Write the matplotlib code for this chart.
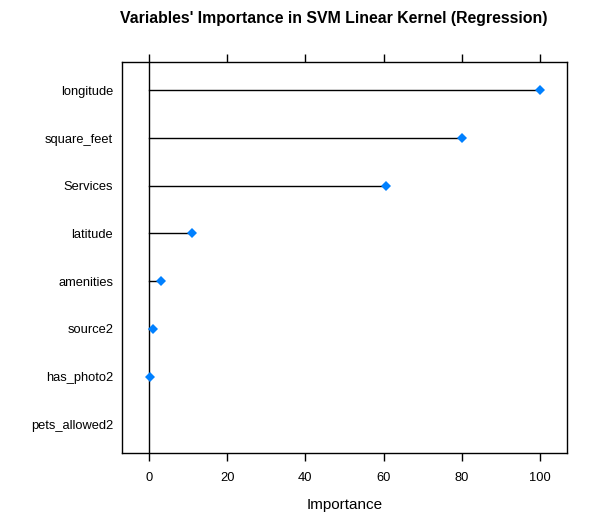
import matplotlib
matplotlib.use("Agg")
import matplotlib.pyplot as plt
import numpy as np

plt.rcParams['font.family'] = ['Liberation Sans', 'DejaVu Sans']

features = ["longitude", "square_feet", "Services", "latitude", "amenities",
            "source2", "has_photo2", "pets_allowed2"]
importance = [100.0, 80.1, 60.7, 11.0, 3.1, 1.0, 0.25, np.nan]
xticks = [0, 20, 40, 60, 80, 100]

fig = plt.figure(figsize=(5.99, 5.32), dpi=100)
ax = fig.add_axes([121.5/599, 1-453/532, (567.3-121.5)/599, (453-61.7)/532])

n = len(features)
ypos = np.arange(n)[::-1] + 1  # top item highest
vals = np.array(importance, dtype=float)

ax.axvline(0, color='black', lw=1.0, zorder=1)
for y, v in zip(ypos, vals):
    if not np.isnan(v):
        ax.plot([0, v], [y, y], color='black', lw=1.0, zorder=2)
ax.plot(vals, ypos, 'D', color='#0080ff', markersize=4.8, zorder=3, markeredgewidth=0)

ax.set_xlim(-7, 107)
ax.set_ylim(0.4, n + 0.6)
ax.set_yticks(ypos)
ax.set_yticklabels(features, fontsize=9.3)
ax.tick_params(axis='y', length=0, pad=6)
ax.set_xticks(xticks)
ax.set_xticklabels([str(t) for t in xticks], fontsize=9.3)
ax.tick_params(axis='x', direction='out', length=6, width=1, top=True, pad=8)
for s in ax.spines.values():
    s.set_linewidth(1.0)

ax.set_xlabel("Importance", fontsize=11, labelpad=10)
fig.text(334/599, 1-19/532, "Variables' Importance in SVM Linear Kernel (Regression)",
         ha='center', va='center', fontsize=11.4, fontweight='bold')

fig.savefig("out.png", dpi=100)
